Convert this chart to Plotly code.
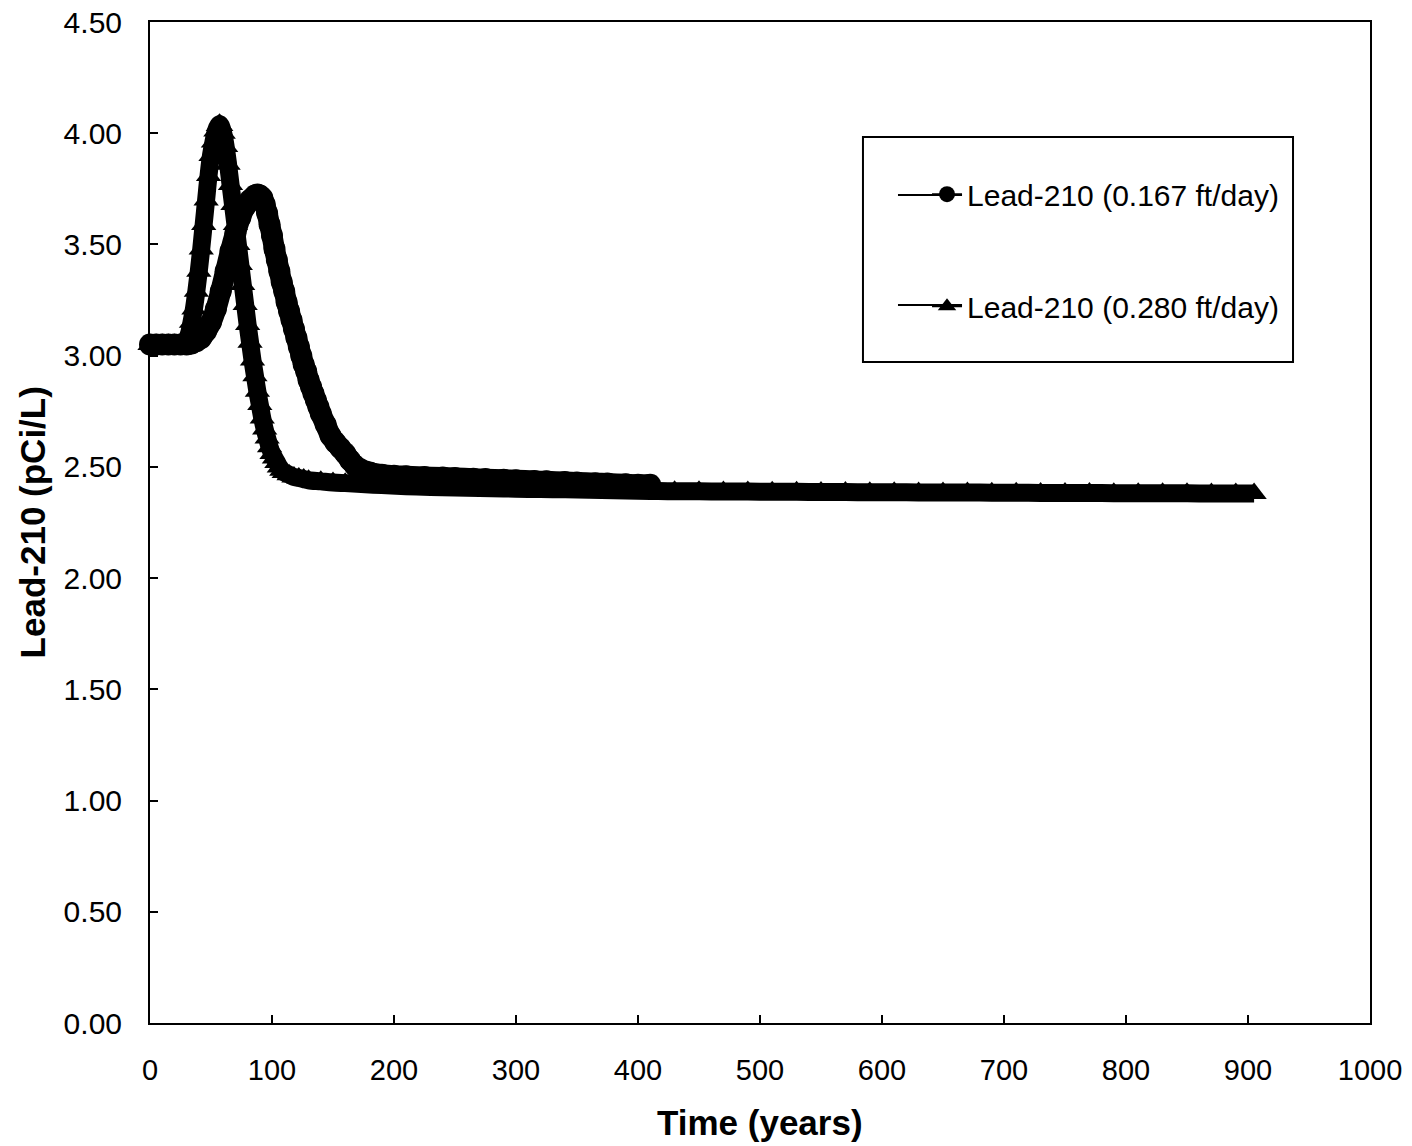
import plotly.graph_objects as go

# ---- data ----
circ_t = [0, 5, 10, 15, 20, 25, 30, 34, 38, 42, 46, 50, 54, 58, 62, 66, 70, 74, 78, 82,
          86, 88, 90, 92, 94, 96, 98, 100, 102, 104, 106, 108, 110, 112, 114, 116, 118,
          120, 122, 124, 126, 128, 130, 132, 134, 136, 138, 140, 144, 148, 152, 156, 160,
          164, 168, 172, 176, 180, 190, 200, 210, 225, 240, 250, 265, 275, 290, 300, 315,
          325, 340, 350, 365, 375, 390, 400, 410]
circ_v = [3.05, 3.05, 3.05, 3.05, 3.05, 3.05, 3.05, 3.055, 3.065, 3.08, 3.11, 3.15, 3.21,
          3.29, 3.38, 3.47, 3.55, 3.62, 3.67, 3.70, 3.72, 3.725, 3.72, 3.71, 3.68, 3.64,
          3.59, 3.54, 3.48, 3.43, 3.38, 3.33, 3.29, 3.24, 3.20, 3.16, 3.12, 3.08, 3.04,
          3.00, 2.96, 2.93, 2.89, 2.86, 2.83, 2.80, 2.77, 2.74, 2.69, 2.64, 2.61, 2.585,
          2.56, 2.53, 2.505, 2.49, 2.48, 2.475, 2.465, 2.46, 2.458, 2.455, 2.452, 2.45,
          2.447, 2.445, 2.442, 2.44, 2.437, 2.435, 2.432, 2.43, 2.427, 2.425, 2.422, 2.42,
          2.42]

tri_t = [0, 5, 10, 15, 20, 24, 26, 28, 30, 32, 34, 36, 38, 40, 42, 44, 46, 48, 50, 52, 54,
         56, 57, 58, 60, 62, 64, 66, 68, 70, 72, 74, 76, 78, 80, 82, 84, 86, 88, 90, 92,
         94, 96, 98, 100, 102, 104, 106, 108, 110, 114, 118, 122, 126, 130, 140, 150, 160,
         170, 190, 210, 230, 250, 270, 290, 310, 330, 350, 370, 390, 410, 430, 450, 470,
         490, 510, 530, 550, 570, 590, 610, 630, 650, 670, 690, 710, 730, 750, 770, 790,
         810, 830, 850, 870, 890, 905]
tri_v = [3.05, 3.05, 3.05, 3.05, 3.05, 3.05, 3.055, 3.06, 3.07, 3.10, 3.15, 3.21, 3.29,
         3.38, 3.48, 3.59, 3.70, 3.81, 3.90, 3.96, 4.01, 4.035, 4.04, 4.035, 4.00, 3.94,
         3.86, 3.77, 3.68, 3.59, 3.50, 3.41, 3.32, 3.23, 3.14, 3.06, 2.98, 2.91, 2.84,
         2.78, 2.72, 2.67, 2.63, 2.59, 2.56, 2.54, 2.52, 2.50, 2.485, 2.475, 2.465, 2.455,
         2.45, 2.445, 2.44, 2.435, 2.43, 2.427, 2.424, 2.418, 2.413, 2.41, 2.407, 2.405,
         2.403, 2.401, 2.40, 2.398, 2.396, 2.394, 2.392, 2.39, 2.39, 2.389, 2.389, 2.388,
         2.388, 2.387, 2.387, 2.386, 2.386, 2.385, 2.385, 2.385, 2.384, 2.384, 2.383,
         2.383, 2.383, 2.382, 2.382, 2.381, 2.381, 2.38, 2.38, 2.38]

name_circ = "Lead-210 (0.167 ft/day)"
name_tri = "Lead-210 (0.280 ft/day)"
x_ticks = [0, 100, 200, 300, 400, 500, 600, 700, 800, 900, 1000]
y_ticks = [0.0, 0.5, 1.0, 1.5, 2.0, 2.5, 3.0, 3.5, 4.0, 4.5]

FONT = "Liberation Sans, Arial, sans-serif"

fig = go.Figure()

fig.add_trace(go.Scatter(
    x=circ_t, y=circ_v, mode="lines+markers", showlegend=False,
    line=dict(color="black", width=21, shape="spline"),
    marker=dict(symbol="circle", size=22, color="black"),
    cliponaxis=False))
fig.add_trace(go.Scatter(
    x=tri_t, y=tri_v, mode="lines+markers", showlegend=False,
    line=dict(color="black", width=18, shape="spline"),
    marker=dict(symbol="triangle-up", size=22, color="black"),
    cliponaxis=False))

# legend entries
fig.add_trace(go.Scatter(
    x=[None], y=[None], mode="lines+markers", name=name_circ, legendgroup="a",
    line=dict(color="black", width=2), marker=dict(symbol="circle", size=16, color="black")))
fig.add_trace(go.Scatter(
    x=[None], y=[None], mode="lines+markers", name=name_tri, legendgroup="b",
    line=dict(color="black", width=2), marker=dict(symbol="triangle-up", size=16, color="black")))

axis_common = dict(
    showline=True, linewidth=2, linecolor="black", mirror=True,
    ticks="inside", ticklen=8, tickwidth=2, tickcolor="black",
    showgrid=False, zeroline=False, ticklabeloverflow="allow",
)

fig.update_xaxes(range=[0, 1000], tickvals=x_ticks, ticklabelstandoff=20,
                 tickfont=dict(family=FONT, size=29, color="black"), **axis_common)
fig.update_yaxes(range=[0, 4.5], tickvals=y_ticks, tickformat=".2f",
                 ticklabelstandoff=20,
                 tickfont=dict(family=FONT, size=30, color="black"), **axis_common)

fig.update_layout(
    width=1412, height=1146,
    margin=dict(l=150, r=42, t=22, b=123, autoexpand=False),
    paper_bgcolor="white", plot_bgcolor="white",
    font=dict(family=FONT, color="black"),
    legend=dict(x=0.6369, y=0.854, xanchor="left", yanchor="top",
                font=dict(family=FONT, size=30, color="black"),
                bgcolor="rgba(0,0,0,0)", borderwidth=0,
                traceorder="grouped", tracegroupgap=70),
    shapes=[
        dict(type="rect", xref="paper", yref="paper",
             x0=0.5844, x1=0.9369, y0=0.6603, y1=0.8851,
             line=dict(color="black", width=2), fillcolor="rgba(0,0,0,0)"),
        dict(type="line", xref="paper", yref="paper", x0=0.6131, x1=0.6656,
             y0=0.8272, y1=0.8272, line=dict(color="black", width=2)),
        dict(type="line", xref="paper", yref="paper", x0=0.6131, x1=0.6656,
             y0=0.7173, y1=0.7173, line=dict(color="black", width=2)),
    ],
    annotations=[
        dict(text="<b>Time (years)</b>", xref="paper", yref="paper", x=0.5, y=-0.0999,
             xanchor="center", yanchor="middle", showarrow=False,
             font=dict(family=FONT, size=35, color="black")),
        dict(text="<b>Lead-210 (pCi/L)</b>", xref="paper", yref="paper", x=-0.096, y=0.5,
             xanchor="center", yanchor="middle", textangle=-90, showarrow=False,
             font=dict(family=FONT, size=35, color="black")),
    ],
)

fig.write_html("out.html",
               config={"displayModeBar": False},
               post_script="document.body.style.margin='0';document.body.style.overflow='hidden';")
